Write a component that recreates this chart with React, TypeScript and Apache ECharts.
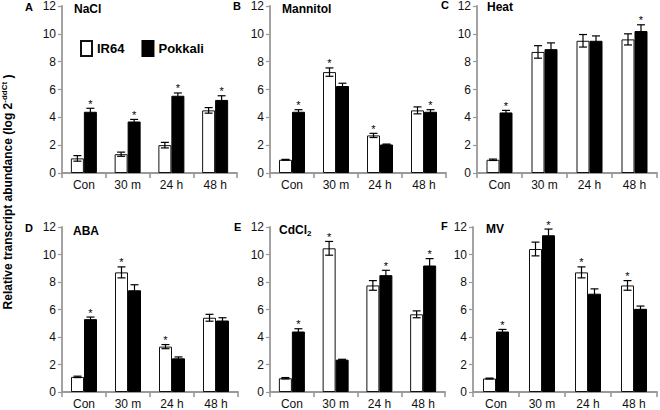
import React, { useEffect, useRef } from 'react';
import * as echarts from 'echarts';

const categories = ['Con', '30 m', '24 h', '48 h'];
const seriesNames = ['IR64', 'Pokkali'];
const panelLetters = ['A', 'B', 'C', 'D', 'E', 'F'];
const panelTitles = ['{t|NaCl}', '{t|Mannitol}', '{t|Heat}', '{t|ABA}', '{t|CdCl}{sub|2}', '{t|MV}'];
const yAxisTitle = '{t|Relative transcript abundance (log 2}{sup|-ddCt}{t| )}';

// NaCl
const naclIR64 = [1.05, 1.35, 2.0, 4.5];
const naclIR64Err = [0.2, 0.15, 0.2, 0.2];
const naclIR64Sig = [0, 0, 0, 0];
const naclPok = [4.4, 3.7, 5.55, 5.25];
const naclPokErr = [0.25, 0.15, 0.2, 0.3];
const naclPokSig = [1, 1, 1, 1];
// Mannitol
const manIR64 = [0.95, 7.25, 2.7, 4.5];
const manIR64Err = [0.03, 0.3, 0.15, 0.25];
const manIR64Sig = [0, 1, 1, 0];
const manPok = [4.4, 6.25, 2.05, 4.4];
const manPokErr = [0.15, 0.2, 0.03, 0.15];
const manPokSig = [1, 0, 0, 1];
// Heat
const heatIR64 = [0.95, 8.7, 9.5, 9.6];
const heatIR64Err = [0.05, 0.45, 0.45, 0.4];
const heatIR64Sig = [0, 0, 0, 0];
const heatPok = [4.35, 8.9, 9.5, 10.2];
const heatPokErr = [0.15, 0.45, 0.35, 0.45];
const heatPokSig = [1, 0, 0, 1];
// ABA
const abaIR64 = [1.1, 8.7, 3.3, 5.4];
const abaIR64Err = [0.05, 0.4, 0.15, 0.25];
const abaIR64Sig = [0, 1, 1, 0];
const abaPok = [5.3, 7.4, 2.45, 5.2];
const abaPokErr = [0.15, 0.4, 0.1, 0.2];
const abaPokSig = [1, 0, 0, 0];
// CdCl2
const cdIR64 = [1.0, 10.45, 7.75, 5.65];
const cdIR64Err = [0.05, 0.5, 0.35, 0.25];
const cdIR64Sig = [0, 1, 0, 0];
const cdPok = [4.4, 2.35, 8.5, 9.2];
const cdPokErr = [0.2, 0.03, 0.35, 0.5];
const cdPokSig = [1, 0, 1, 1];
// MV
const mvIR64 = [0.98, 10.4, 8.7, 7.75];
const mvIR64Err = [0.03, 0.5, 0.4, 0.35];
const mvIR64Sig = [0, 0, 1, 1];
const mvPok = [4.4, 11.4, 7.15, 6.05];
const mvPokErr = [0.15, 0.45, 0.35, 0.2];
const mvPokSig = [1, 1, 0, 0];

const FONT = 'Liberation Sans, Arial, sans-serif';
const AXIS_GRAY = '#999999';
const BAR_W = 13;

const panelData = [
  [naclIR64, naclIR64Err, naclIR64Sig, naclPok, naclPokErr, naclPokSig],
  [manIR64, manIR64Err, manIR64Sig, manPok, manPokErr, manPokSig],
  [heatIR64, heatIR64Err, heatIR64Sig, heatPok, heatPokErr, heatPokSig],
  [abaIR64, abaIR64Err, abaIR64Sig, abaPok, abaPokErr, abaPokSig],
  [cdIR64, cdIR64Err, cdIR64Sig, cdPok, cdPokErr, cdPokSig],
  [mvIR64, mvIR64Err, mvIR64Sig, mvPok, mvPokErr, mvPokSig],
];

// layout: [left, top, width, height]
const gridLayout = [
  [62, 6, 175, 167],
  [270, 6, 176, 167],
  [477, 6, 180, 167],
  [62, 227, 176, 167],
  [270, 227, 175, 167],
  [473, 227, 184, 167],
];
const letterPos = [[29, 7], [237, 6], [445, 5], [29, 228], [238, 227], [445, 226]];
const titlePos = [[74, 10], [282, 10], [487, 8], [73, 232], [279, 231], [486, 230]];

function renderErr(params: any, api: any) {
  const idx = api.value(0);
  const v = api.value(1);
  const e = api.value(2);
  const sign = api.value(3);
  const sig = api.value(4);
  const c = api.coord([idx, v]);
  const x = c[0] + sign * (BAR_W / 2);
  const yt = api.coord([idx, v + e])[1];
  const yb = api.coord([idx, v - e])[1];
  const hw = 4;
  const ls = { stroke: '#000', lineWidth: 1.2 };
  const children: any[] = [
    { type: 'line', shape: { x1: x, y1: yt, x2: x, y2: yb }, style: ls },
    { type: 'line', shape: { x1: x - hw, y1: yt, x2: x + hw, y2: yt }, style: ls },
    { type: 'line', shape: { x1: x - hw, y1: yb, x2: x + hw, y2: yb }, style: ls },
  ];
  if (sig) {
    children.push({
      type: 'text',
      x,
      y: yt + 1,
      style: { text: '*', textAlign: 'center', textVerticalAlign: 'bottom', fontSize: 11, fontFamily: FONT, fill: '#000' },
    });
  }
  return { type: 'group', children };
}

export default function App() {
  const ref = useRef<HTMLDivElement>(null);
  useEffect(() => {
    if (!ref.current) return;
    const chart = echarts.init(ref.current, null, { renderer: 'svg' });
    const grids: any[] = [];
    const xAxes: any[] = [];
    const yAxes: any[] = [];
    const series: any[] = [];
    const graphics: any[] = [];

    panelData.forEach((pd, i) => {
      const [l, t, w, h] = gridLayout[i];
      grids.push({ left: l, top: t, width: w, height: h });
      xAxes.push({
        type: 'category',
        gridIndex: i,
        data: categories,
        axisLine: { lineStyle: { color: AXIS_GRAY, width: 1.8 } },
        axisTick: { show: true, length: 5, alignWithLabel: false, lineStyle: { color: AXIS_GRAY, width: 1.6 } },
        axisLabel: { fontSize: 12, color: '#111', fontFamily: FONT, margin: 6, interval: 0 },
      });
      yAxes.push({
        type: 'value',
        gridIndex: i,
        min: 0,
        max: 12,
        interval: 2,
        splitLine: { show: false },
        axisLine: { show: true, lineStyle: { color: AXIS_GRAY, width: 1.8 } },
        axisTick: { show: true, length: 4, lineStyle: { color: AXIS_GRAY, width: 1.2 } },
        axisLabel: { fontSize: 12, color: '#111', fontFamily: FONT, margin: 6 },
      });
      const [ir, irE, irS, pk, pkE, pkS] = pd;
      series.push({
        type: 'bar',
        name: seriesNames[0],
        xAxisIndex: i,
        yAxisIndex: i,
        data: ir,
        barWidth: BAR_W,
        barGap: '0%',
        itemStyle: { color: '#fff', borderColor: '#111', borderWidth: 1 },
      });
      series.push({
        type: 'bar',
        name: seriesNames[1],
        xAxisIndex: i,
        yAxisIndex: i,
        data: pk,
        barWidth: BAR_W,
        barGap: '0%',
        itemStyle: { color: '#000', borderColor: '#000', borderWidth: 1 },
      });
      const errData: any[] = [];
      categories.forEach((_, k) => {
        errData.push([k, ir[k], irE[k], -1, irS[k]]);
        errData.push([k, pk[k], pkE[k], 1, pkS[k]]);
      });
      series.push({
        type: 'custom',
        xAxisIndex: i,
        yAxisIndex: i,
        data: errData,
        encode: { x: 0, y: 1 },
        renderItem: renderErr,
        z: 5,
        silent: true,
      });
      graphics.push({
        type: 'text',
        left: letterPos[i][0] - 4,
        top: letterPos[i][1] - 6,
        style: { text: panelLetters[i], fontSize: 11, fontWeight: 'bold', fontFamily: FONT, fill: '#000' },
      });
      graphics.push({
        type: 'text',
        left: titlePos[i][0],
        top: titlePos[i][1] - 7,
        style: {
          text: panelTitles[i],
          fontFamily: FONT,
          rich: {
            t: { fontSize: 12, fontWeight: 'bold', fontFamily: FONT, fill: '#000', lineHeight: 14 },
            sub: { fontSize: 8, fontWeight: 'bold', fontFamily: FONT, fill: '#000', padding: [7, 0, 0, 0] },
          },
        },
      });
    });

    graphics.push({
      type: 'text',
      x: 8,
      y: 192,
      rotation: Math.PI / 2,
      style: {
        text: yAxisTitle,
        align: 'center',
        verticalAlign: 'middle',
        fontFamily: FONT,
        rich: {
          t: { fontSize: 12, fontWeight: 'bold', fontFamily: FONT, fill: '#000', lineHeight: 14 },
          sup: { fontSize: 8, fontWeight: 'bold', fontFamily: FONT, fill: '#000', padding: [0, 0, 7, 0] },
        },
      },
    });

    chart.setOption({
      animation: false,
      backgroundColor: '#fff',
      grid: grids,
      xAxis: xAxes,
      yAxis: yAxes,
      series,
      graphic: graphics,
      legend: {
        data: seriesNames,
        left: 75,
        top: 35,
        icon: 'rect',
        itemWidth: 11,
        itemHeight: 15,
        itemGap: 17,
        selectedMode: false,
        textStyle: { fontSize: 13, fontWeight: 'bold', fontFamily: FONT, color: '#000' },
      },
    });
    return () => chart.dispose();
  }, []);
  return <div ref={ref} style={{ position: 'fixed', left: 0, top: 0, width: 660, height: 410 }} />;
}
